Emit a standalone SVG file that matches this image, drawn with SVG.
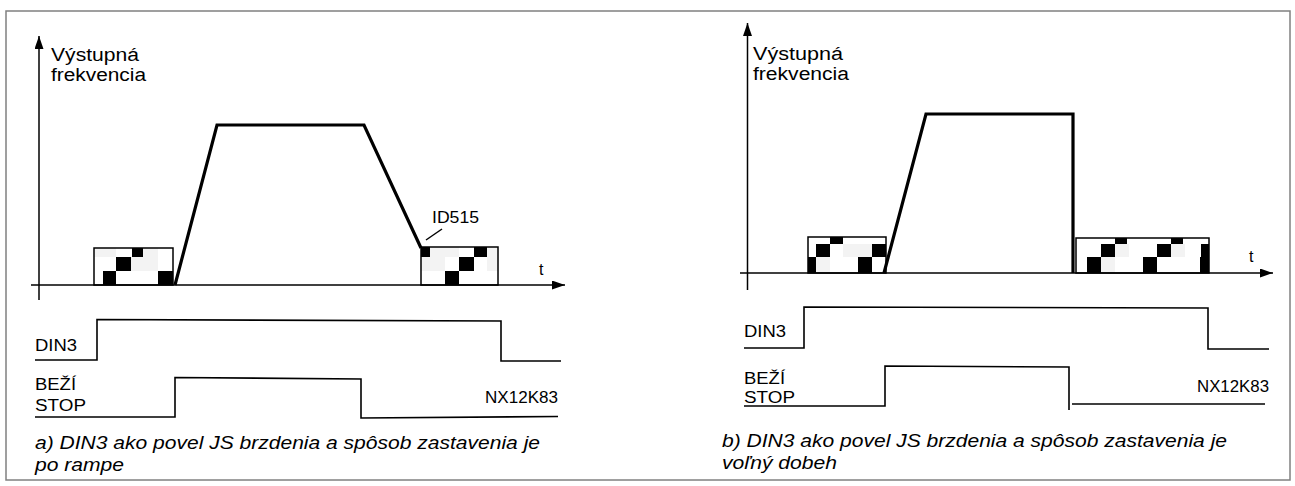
<svg xmlns="http://www.w3.org/2000/svg" width="1295" height="486" viewBox="0 0 1295 486">
<style>
text{font-family:"Liberation Sans",Arial,sans-serif;fill:#000}
.lbl{font-size:18px}
.sig{font-size:16px}
.cap{font-size:18px;font-style:italic}
.ax{stroke:#000;stroke-width:1.5;fill:none}
.wave{stroke:#000;stroke-width:3.2;fill:none;stroke-linejoin:miter}
.box{stroke:#000;stroke-width:1.5;fill:none}
.bg{fill:#fff}
.sg{stroke:#000;stroke-width:1.6;fill:none}
.blk{fill:#000}
.lt{fill:#f3f3f3}
</style>
<defs>
<marker id="ah" markerUnits="userSpaceOnUse" markerWidth="14" markerHeight="10" refX="13" refY="4.5" orient="auto">
<path d="M0,0 L13,4.5 L0,9 Z" fill="#000"/>
</marker>
</defs>
<rect x="6" y="11" width="1284" height="469" fill="#fff" stroke="#808080" stroke-width="1.5"/>

<g id="panel-a">
<g id="a-boxes">
<g id="a-box1">
<rect class="bg" x="94" y="248" width="79" height="37"/>
<rect class="lt" x="94" y="248" width="22" height="9"/>
<rect class="lt" x="143" y="248" width="15" height="9"/>
<rect class="lt" x="131" y="257" width="27" height="14"/>
<rect class="blk" x="132" y="248" width="11" height="9"/>
<rect class="blk" x="116" y="257" width="15" height="14"/>
<rect class="blk" x="103" y="271" width="13" height="14"/>
<rect class="blk" x="158" y="271" width="15" height="14"/>
<rect class="box" x="94" y="248" width="79" height="37"/>
</g>
<g id="a-box2">
<rect class="bg" x="421" y="247" width="77" height="38"/>
<rect class="lt" x="430" y="247" width="29" height="10"/>
<rect class="lt" x="421" y="257" width="24" height="14"/>
<rect class="lt" x="487" y="247" width="11" height="24"/>
<rect class="blk" x="421" y="247" width="9" height="10"/>
<rect class="blk" x="474" y="247" width="13" height="10"/>
<rect class="blk" x="459" y="257" width="15" height="14"/>
<rect class="blk" x="445" y="271" width="14" height="14"/>
<rect class="box" x="421" y="247" width="77" height="38"/>
</g>
</g>
<g id="a-axes">
<line class="ax" x1="39" y1="300" x2="39" y2="36" marker-end="url(#ah)"/>
<line class="ax" x1="31" y1="285" x2="565" y2="285" marker-end="url(#ah)"/>
</g>
<g id="a-freq">
<path class="wave" d="M175,285 L217,125 L364,125 L421,248"/>
<line class="ax" x1="426" y1="240" x2="442" y2="229"/>
</g>
<g id="a-labels">
<text class="lbl" x="51" y="61" textLength="88" lengthAdjust="spacingAndGlyphs">Výstupná</text>
<text class="lbl" x="51" y="81" textLength="95" lengthAdjust="spacingAndGlyphs">frekvencia</text>
<text class="sig" x="539" y="275">t</text>
<text class="sig" x="432" y="223" textLength="47" lengthAdjust="spacingAndGlyphs">ID515</text>
</g>
<g id="a-din3">
<path class="sg" d="M35,360 L97,360 L97,319.5 L501,321 L501,361 L561,361"/>
<text class="sig" x="35" y="351" textLength="42" lengthAdjust="spacingAndGlyphs">DIN3</text>
</g>
<g id="a-run">
<path class="sg" d="M35,417 L175,417 L175,377.5 L361,379 L361,418 L558,416.5"/>
<text class="sig" x="35" y="390" textLength="41" lengthAdjust="spacingAndGlyphs">BEŽÍ</text>
<text class="sig" x="35" y="411" textLength="51" lengthAdjust="spacingAndGlyphs">STOP</text>
<text class="sig" x="485" y="403" textLength="73" lengthAdjust="spacingAndGlyphs">NX12K83</text>
</g>
<g id="a-caption">
<text class="cap" x="35" y="449" textLength="505" lengthAdjust="spacingAndGlyphs">a) DIN3 ako povel JS brzdenia a spôsob zastavenia je</text>
<text class="cap" x="35" y="471" textLength="89" lengthAdjust="spacingAndGlyphs">po rampe</text>
</g>
</g>

<g id="panel-b">
<g id="b-boxes">
<g id="b-box1">
<rect class="bg" x="808" y="237" width="78" height="36"/>
<rect class="lt" x="843" y="244" width="29" height="13"/>
<rect class="lt" x="816" y="257" width="14" height="16"/>
<rect class="blk" x="830" y="237" width="13" height="7"/>
<rect class="blk" x="816" y="244" width="14" height="13"/>
<rect class="blk" x="872" y="244" width="14" height="13"/>
<rect class="blk" x="808" y="257" width="8" height="16"/>
<rect class="blk" x="858" y="257" width="14" height="16"/>
<rect class="box" x="808" y="237" width="78" height="36"/>
</g>
<g id="b-box2">
<rect class="bg" x="1076" y="238" width="133" height="35"/>
<rect class="lt" x="1115" y="244" width="14" height="13"/>
<rect class="lt" x="1171" y="244" width="14" height="13"/>
<rect class="lt" x="1101" y="257" width="14" height="16"/>
<rect class="blk" x="1115" y="238" width="12" height="6"/>
<rect class="blk" x="1171" y="238" width="12" height="6"/>
<rect class="blk" x="1101" y="244" width="14" height="13"/>
<rect class="blk" x="1157" y="244" width="14" height="13"/>
<rect class="blk" x="1201" y="244" width="8" height="13"/>
<rect class="blk" x="1087" y="257" width="14" height="16"/>
<rect class="blk" x="1143" y="257" width="14" height="16"/>
<rect class="blk" x="1200" y="257" width="9" height="16"/>
<rect class="box" x="1076" y="238" width="133" height="35"/>
</g>
</g>
<g id="b-axes">
<line class="ax" x1="747.5" y1="290" x2="747.5" y2="23" marker-end="url(#ah)"/>
<line class="ax" x1="740" y1="273" x2="1273" y2="273" marker-end="url(#ah)"/>
</g>
<g id="b-freq">
<path class="wave" d="M884,273 L926,114 L1073,114 L1073,273"/>
</g>
<g id="b-labels">
<text class="lbl" x="753" y="60" textLength="90" lengthAdjust="spacingAndGlyphs">Výstupná</text>
<text class="lbl" x="753" y="80" textLength="96" lengthAdjust="spacingAndGlyphs">frekvencia</text>
<text class="sig" x="1249" y="262">t</text>
</g>
<g id="b-din3">
<path class="sg" d="M744,348 L804,348 L804,307 L1208,308 L1208,349 L1269,349"/>
<text class="sig" x="744" y="337" textLength="42" lengthAdjust="spacingAndGlyphs">DIN3</text>
</g>
<g id="b-run">
<path class="sg" d="M744,406 L885,406 L885,366 L1069,367 L1069,410"/>
<path class="sg" d="M1072,404 L1265,404"/>
<text class="sig" x="744" y="384" textLength="41" lengthAdjust="spacingAndGlyphs">BEŽÍ</text>
<text class="sig" x="744" y="403" textLength="51" lengthAdjust="spacingAndGlyphs">STOP</text>
<text class="sig" x="1197" y="392" textLength="72" lengthAdjust="spacingAndGlyphs">NX12K83</text>
</g>
<g id="b-caption">
<text class="cap" x="722" y="447" textLength="505" lengthAdjust="spacingAndGlyphs">b) DIN3 ako povel JS brzdenia a spôsob zastavenia je</text>
<text class="cap" x="722" y="469" textLength="115" lengthAdjust="spacingAndGlyphs">voľný dobeh</text>
</g>
</g>
</svg>
